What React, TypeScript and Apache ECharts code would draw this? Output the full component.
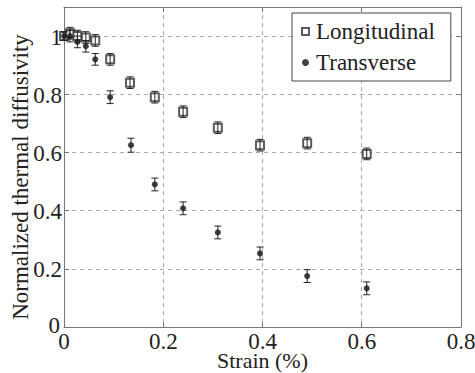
import React, { useEffect, useRef } from "react";
import * as echarts from "echarts";

const xLong = [0, 0.012, 0.027, 0.044, 0.063, 0.093, 0.133, 0.183, 0.24, 0.31, 0.395, 0.49, 0.61];
const yLong = [1.0, 1.01, 1.0, 0.995, 0.985, 0.92, 0.84, 0.79, 0.74, 0.685, 0.625, 0.632, 0.595];
const errLong = [0.015, 0.02, 0.02, 0.02, 0.02, 0.02, 0.02, 0.02, 0.02, 0.02, 0.02, 0.02, 0.02];

const xTrans = [0, 0.012, 0.027, 0.044, 0.063, 0.093, 0.135, 0.183, 0.24, 0.31, 0.395, 0.49, 0.61];
const yTrans = [1.0, 1.0, 0.98, 0.965, 0.92, 0.79, 0.625, 0.49, 0.408, 0.325, 0.253, 0.175, 0.133];
const errTrans = [0.015, 0.02, 0.02, 0.02, 0.02, 0.022, 0.024, 0.022, 0.022, 0.022, 0.022, 0.022, 0.022];

const seriesNames = ["Longitudinal", "Transverse"];
const xTicks = [0, 0.2, 0.4, 0.6, 0.8];
const xTickLabels = ["0", "0.2", "0.4", "0.6", "0.8"];
const yTicks = [0, 0.2, 0.4, 0.6, 0.8, 1];
const yTickLabels = ["0", "0.2", "0.4", "0.6", "0.8", "1"];
const xTitle = "Strain (%)";
const yTitle = "Normalized thermal diffusivity";

const FONT = "Liberation Serif";
const FS = 23;
const TEXT = "#222";
const AXIS = "#777";

function errData(xs: number[], ys: number[], es: number[]) {
  return xs.map((x, i) => [x, ys[i] - es[i], ys[i] + es[i]]);
}

function renderErr(params: any, api: any) {
  const x = api.value(0);
  const lo = api.coord([x, api.value(1)]);
  const hi = api.coord([x, api.value(2)]);
  const w = 3.5;
  const style = { stroke: "#222", lineWidth: 1 };
  return {
    type: "group",
    children: [
      { type: "line", shape: { x1: lo[0], y1: lo[1], x2: hi[0], y2: hi[1] }, style },
      { type: "line", shape: { x1: lo[0] - w, y1: lo[1], x2: lo[0] + w, y2: lo[1] }, style },
      { type: "line", shape: { x1: hi[0] - w, y1: hi[1], x2: hi[0] + w, y2: hi[1] }, style },
    ],
  };
}

export default function App() {
  const ref = useRef<HTMLDivElement>(null);
  useEffect(() => {
    if (!ref.current) return;
    const chart = echarts.init(ref.current, null, { renderer: "svg" });
    const tickInside = { show: true, inside: true, length: 5, lineStyle: { color: AXIS } };
    const baseX = {
      type: "value",
      min: 0,
      max: 0.8,
      interval: 0.2,
      axisLine: { show: true, onZero: false, lineStyle: { color: AXIS } },
      axisTick: tickInside,
      axisLabel: { show: false },
    };
    const baseY = {
      type: "value",
      min: 0,
      max: 1.1,
      interval: 0.2,
      axisLine: { show: true, onZero: false, lineStyle: { color: AXIS } },
      axisTick: tickInside,
      axisLabel: { show: false },
    };
    chart.setOption({
      animation: false,
      backgroundColor: "#fff",
      textStyle: { fontFamily: FONT },
      grid: { left: 64, right: 14, top: 7, bottom: 46, outerBoundsMode: "none", containLabel: false },
      legend: {
        orient: "vertical",
        left: 292,
        top: 13,
        padding: [7, 16, 7, 9],
        itemGap: 8,
        itemWidth: 7,
        itemHeight: 7,
        borderColor: "#444",
        borderWidth: 1,
        backgroundColor: "#fff",
        textStyle: { fontSize: FS, color: TEXT, fontFamily: FONT, padding: [0, 0, 0, 2] },
        data: [
          { name: seriesNames[0], icon: "emptyRect" },
          { name: seriesNames[1], icon: "circle", itemStyle: { color: "#111" } },
        ],
      },
      xAxis: [
        { ...baseX, splitLine: { show: true, lineStyle: { color: "#aaa", type: [4, 4] } } },
        { ...baseX, position: "top", splitLine: { show: false } },
      ],
      yAxis: [
        { ...baseY, splitLine: { show: true, lineStyle: { color: "#aaa", type: [4, 4] } } },
        { ...baseY, position: "right", splitLine: { show: false } },
      ],
      series: [
        {
          name: seriesNames[0],
          type: "scatter",
          z: 2,
          symbol: "emptyRect",
          symbolSize: 8,
          itemStyle: { color: "#333", borderColor: "#333", borderWidth: 1 },
          data: xLong.map((x, i) => [x, yLong[i]]),
        },
        {
          name: seriesNames[1],
          type: "scatter",
          z: 2,
          symbol: "circle",
          symbolSize: 6,
          itemStyle: { color: "#111" },
          data: xTrans.map((x, i) => [x, yTrans[i]]),
        },
        {
          type: "custom",
          z: 3,
          renderItem: renderErr,
          data: errData(xLong, yLong, errLong),
          encode: { x: 0, y: [1, 2] },
        },
        {
          type: "custom",
          z: 3,
          renderItem: renderErr,
          data: errData(xTrans, yTrans, errTrans),
          encode: { x: 0, y: [1, 2] },
        },
      ],
    });

    const toPx = (x: number, y: number) =>
      chart.convertToPixel({ xAxisIndex: 0, yAxisIndex: 0 }, [x, y]) as number[];
    const textStyle = { font: `${FS}px ${FONT}`, fontSize: FS, fontFamily: FONT, fill: TEXT };
    const graphics: any[] = [];
    xTicks.forEach((v, i) => {
      const p = toPx(v, 0);
      graphics.push({
        type: "text",
        x: p[0],
        y: p[1] + 3,
        style: { ...textStyle, text: xTickLabels[i], align: "center", verticalAlign: "top" },
      });
    });
    yTicks.forEach((v, i) => {
      const p = toPx(0, v);
      graphics.push({
        type: "text",
        x: p[0] - (v === 0 ? 4 : 2),
        y: p[1] + (v === 0 ? -2 : 1),
        style: { ...textStyle, text: yTickLabels[i], align: "right", verticalAlign: "middle" },
      });
    });
    const c0 = toPx(0, 0);
    const c1 = toPx(0.8, 1.1);
    graphics.push({
      type: "text",
      x: (c0[0] + c1[0]) / 2,
      y: c0[1] + 33,
      style: {
        ...textStyle,
        font: `22px ${FONT}`,
        fontSize: 22,
        text: xTitle,
        align: "center",
        verticalAlign: "middle",
      },
    });
    graphics.push({
      type: "text",
      x: 20,
      y: (c0[1] + c1[1]) / 2 + 10,
      rotation: Math.PI / 2,
      style: { ...textStyle, text: yTitle, align: "center", verticalAlign: "middle" },
    });
    chart.setOption({ graphic: graphics });

    return () => chart.dispose();
  }, []);
  return <div ref={ref} style={{ position: "fixed", left: 0, top: 0, width: 475, height: 373 }} />;
}
